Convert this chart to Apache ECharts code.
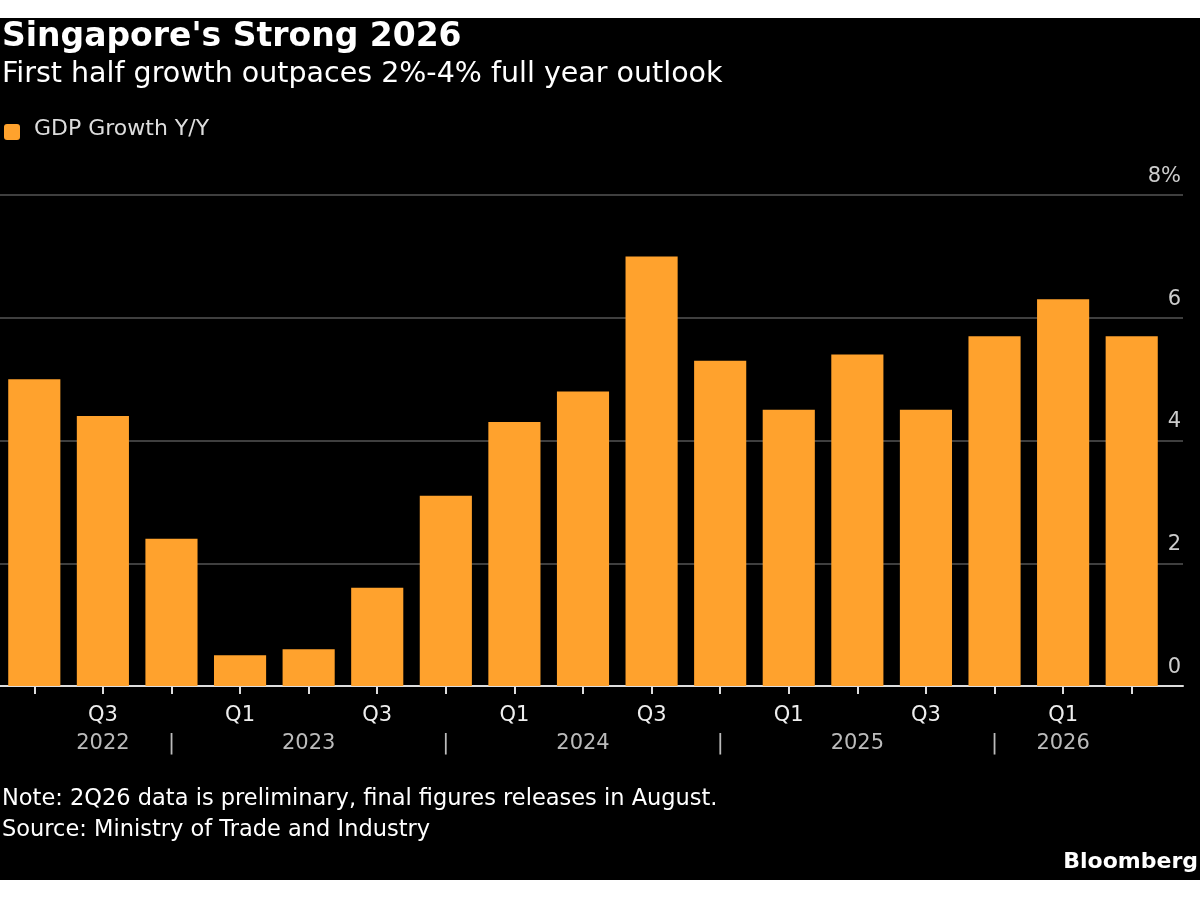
<!DOCTYPE html>
<html><head><meta charset="utf-8">
<script src="https://cdn.jsdelivr.net/npm/echarts@6/dist/echarts.min.js"></script>
<style>html,body{margin:0;background:#fff;}#c{position:absolute;left:0;top:18px;width:1200px;height:862px;background:#000;}</style>
</head><body><div id="c"></div>
<script>
const categories = ['2Q22','3Q22','4Q22','1Q23','2Q23','3Q23','4Q23','1Q24','2Q24','3Q24','4Q24','1Q25','2Q25','3Q25','4Q25','1Q26','2Q26'];
const gdpGrowth = [5.0,4.4,2.4,0.5,0.6,1.6,3.1,4.3,4.8,7.0,5.3,4.5,5.4,4.5,5.7,6.3,5.7];
const tickLabels = ['{q| }\n{y| }', '{q|Q3}\n{y|2022}', '{q| }\n{y||}', '{q|Q1}\n{y| }', '{q| }\n{y|2023}', '{q|Q3}\n{y| }', '{q| }\n{y||}', '{q|Q1}\n{y| }', '{q| }\n{y|2024}', '{q|Q3}\n{y| }', '{q| }\n{y||}', '{q|Q1}\n{y| }', '{q| }\n{y|2025}', '{q|Q3}\n{y| }', '{q| }\n{y||}', '{q|Q1}\n{y|2026}', '{q| }\n{y| }'];
const yTicks = [0,2,4,6,8];
const font = 'DejaVu Sans';
const chart = echarts.init(document.getElementById('c'), null, {renderer:'canvas'});
chart.setOption({
  backgroundColor:'#000',
  animation:false,
  textStyle:{fontFamily:font},
  graphic:[
    {type:'text',left:2,top:3,style:{text:"Singapore's Strong 2026",fill:'#fff',font:'bold 33px "DejaVu Sans"'}},
    {type:'text',left:2,top:42,style:{text:'First half growth outpaces 2%-4% full year outlook',fill:'#fff',font:'28.5px "DejaVu Sans"'}},
    {type:'rect',left:4,top:106,shape:{width:16,height:16,r:3},style:{fill:'#ffa22d'}},
    {type:'text',left:34,top:100,style:{text:'GDP Growth Y/Y',fill:'#ddd',font:'22px "DejaVu Sans"'}},
    {type:'text',left:2,top:770,style:{text:'Note: 2Q26 data is preliminary, final figures releases in August.',fill:'#fff',font:'22.5px "DejaVu Sans"'}},
    {type:'text',left:2,top:801,style:{text:'Source: Ministry of Trade and Industry',fill:'#fff',font:'22.5px "DejaVu Sans"'}},
    {type:'text',right:2,top:833,style:{text:'Bloomberg',fill:'#fff',font:'bold 22px "DejaVu Sans"'}}
  ],
  grid:[
    {left:-8,right:34,top:177,bottom:194},
    {left:0,right:17,top:177,bottom:194}
  ],
  xAxis:[
    {type:'category',gridIndex:0,data:categories,
      axisLine:{show:false},
      axisTick:{show:true,alignWithLabel:true,length:8,lineStyle:{color:'#ddd',width:2}},
      axisLabel:{interval:0,margin:16,formatter:(v,i)=>tickLabels[i],
        rich:{q:{color:'#eee',fontSize:21,lineHeight:28,fontFamily:font},y:{color:'#bbb',fontSize:21,lineHeight:28,fontFamily:font}}}},
    {type:'value',gridIndex:1,min:0,max:1,show:true,axisLine:{show:true,onZero:false,lineStyle:{color:'#ddd',width:2}},axisTick:{show:false},axisLabel:{show:false},splitLine:{show:false}}
  ],
  yAxis:[
    {type:'value',gridIndex:0,min:0,max:8,interval:2,show:false,splitLine:{show:false}},
    {type:'value',gridIndex:1,min:0,max:8,interval:2,position:'right',
      axisLine:{show:false},axisTick:{show:false},
      splitLine:{lineStyle:{color:'#555',width:1.5}},
      axisLabel:{inside:true,margin:2,verticalAlign:'bottom',padding:[0,0,8,0],color:'#ccc',fontSize:21,fontFamily:font,
        formatter:v=>v===8?'8%':String(v)}}
  ],
  series:[{type:'bar',xAxisIndex:0,yAxisIndex:0,data:gdpGrowth,barCategoryGap:'24%',itemStyle:{color:'#ffa22d'},z:3}]
});
</script></body></html>
